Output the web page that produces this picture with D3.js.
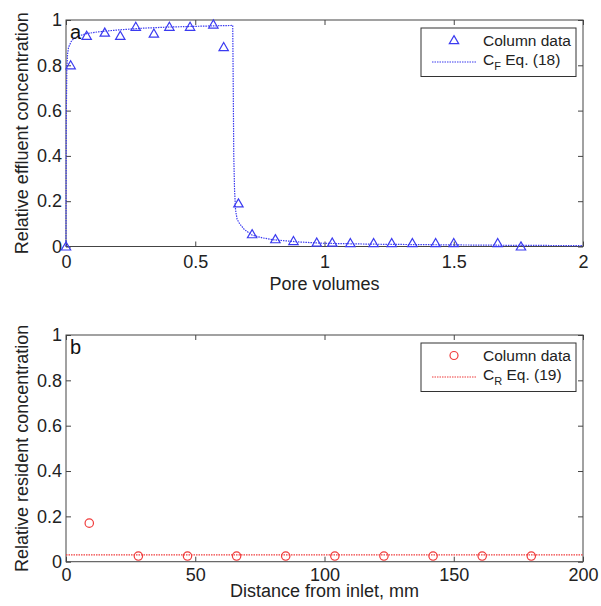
<!DOCTYPE html>
<html>
<head>
<meta charset="utf-8">
<script src="https://cdn.jsdelivr.net/npm/d3@7"></script>
<style>
  body { margin: 0; background: #fff; }
  svg { font-family: "Liberation Sans", Arial, sans-serif; }
  .tick text { font-size: 18px; fill: #222; }
  .tick line { stroke: #444; }
</style>
</head>
<body>
<div id="chart"></div>
<script>
//////////////////// Data ////////////////////

// panel a: effluent breakthrough
var poreVolumes = [0, 0.018, 0.08, 0.15, 0.21, 0.27, 0.34, 0.40, 0.48, 0.57, 0.61,
                   0.667, 0.72, 0.81, 0.88, 0.97, 1.03, 1.10, 1.19, 1.26, 1.34, 1.43, 1.50, 1.67, 1.76];
var effluentConc = [0, 0.80, 0.93, 0.944, 0.93, 0.97, 0.94, 0.97, 0.97, 0.98, 0.88,
                    0.19, 0.054, 0.032, 0.024, 0.017, 0.017, 0.015, 0.015, 0.015, 0.015, 0.015, 0.015, 0.015, 0.0];

// C_F Eq. (18) curve
var modelPV = [0, 0.001, 0.003, 0.006, 0.01, 0.02, 0.03, 0.05, 0.08, 0.12, 0.2, 0.3, 0.4, 0.5, 0.6, 0.645,
               0.647, 0.649, 0.652, 0.656, 0.662, 0.672, 0.69, 0.72, 0.76, 0.8, 0.9, 1.0, 1.2, 1.5, 1.75, 2.0];
var modelCF = [0, 0.55, 0.78, 0.85, 0.88, 0.905, 0.918, 0.93, 0.94, 0.947, 0.956, 0.964, 0.969, 0.972, 0.975, 0.976,
               0.7, 0.4, 0.25, 0.16, 0.12, 0.1, 0.075, 0.05, 0.038, 0.03, 0.02, 0.014, 0.01, 0.007, 0.005, 0.004];

// panel b: resident concentration profile
var distance = [9, 28, 47, 66, 85, 104, 123, 142, 161, 180];
var residentConc = [0.17, 0.025, 0.025, 0.025, 0.025, 0.025, 0.025, 0.025, 0.025, 0.025];

// C_R Eq. (19) curve
var modelDist = [0, 50, 100, 150, 200];
var modelCR = [0.03, 0.03, 0.03, 0.03, 0.03];

var yTicks = [0, 0.2, 0.4, 0.6, 0.8, 1];
var xTicksA = [0, 0.5, 1, 1.5, 2];
var xTicksB = [0, 50, 100, 150, 200];

//////////////////// Set up svg ////////////////////

var width = 601, height = 606;
var svg = d3.select("#chart").append("svg")
    .attr("width", width)
    .attr("height", height);

var blue = "#3b3bf0", red = "#f03c3c";
var triangle = d3.symbol().type(d3.symbolTriangle).size(38);

function drawPanel(opt) {
    var x = d3.scaleLinear().domain(opt.xDomain).range([opt.left, opt.right]);
    var y = d3.scaleLinear().domain([0, 1]).range([opt.bottom, opt.top]);
    var g = svg.append("g");

    //axes with inward ticks on all four sides
    g.append("g").attr("transform", "translate(0," + opt.bottom + ")")
        .call(d3.axisBottom(x).tickValues(opt.xTicks).tickSize(-5).tickSizeOuter(0).tickPadding(opt.xPad).tickFormat(d3.format("")))
        .select(".domain").remove();
    g.append("g").attr("transform", "translate(0," + opt.top + ")")
        .call(d3.axisTop(x).tickValues(opt.xTicks).tickSize(-5).tickSizeOuter(0).tickFormat(""))
        .select(".domain").remove();
    g.append("g").attr("transform", "translate(" + opt.left + ",0)")
        .call(d3.axisLeft(y).tickValues(yTicks).tickSize(-5).tickSizeOuter(0).tickPadding(4).tickFormat(d3.format("")))
        .select(".domain").remove();
    g.append("g").attr("transform", "translate(" + opt.right + ",0)")
        .call(d3.axisRight(y).tickValues(yTicks).tickSize(-5).tickSizeOuter(0).tickFormat(""))
        .select(".domain").remove();

    g.append("rect")
        .attr("x", opt.left).attr("y", opt.top)
        .attr("width", opt.right - opt.left).attr("height", opt.bottom - opt.top)
        .style("fill", "none").style("stroke", "#444").style("stroke-width", 1);

    //model line
    var line = d3.line().x(function(d) { return x(d[0]); }).y(function(d) { return y(d[1]); });
    g.append("path")
        .datum(d3.zip(opt.lineX, opt.lineY))
        .attr("d", line)
        .style("fill", "none").style("stroke", opt.color)
        .style("stroke-width", 1.2).style("stroke-dasharray", "1.5,1");

    //column data markers
    var pts = d3.zip(opt.ptX, opt.ptY);
    if (opt.marker === "triangle") {
        g.selectAll(".pt").data(pts).enter().append("path")
            .attr("transform", function(d) { return "translate(" + x(d[0]) + "," + (y(d[1]) + 0.8) + ")"; })
            .attr("d", triangle)
            .style("fill", "none").style("stroke", opt.color).style("stroke-width", 1.2);
    } else {
        g.selectAll(".pt").data(pts).enter().append("circle")
            .attr("cx", function(d) { return x(d[0]); })
            .attr("cy", function(d) { return y(d[1]); })
            .attr("r", 4.2)
            .style("fill", "none").style("stroke", opt.color).style("stroke-width", 1.2);
    }

    //panel letter
    g.append("text").attr("x", opt.left + 4).attr("y", opt.top + 19)
        .style("font-size", "20px").style("fill", "#111").text(opt.letter);

    //axis titles
    g.append("text")
        .attr("x", (opt.left + opt.right) / 2).attr("y", opt.bottom + opt.xLabelGap)
        .attr("text-anchor", "middle").style("font-size", "18px").style("fill", "#222")
        .text(opt.xLabel);
    g.append("text")
        .attr("transform", "translate(28," + ((opt.top + opt.bottom) / 2) + ") rotate(-90)")
        .attr("text-anchor", "middle").style("font-size", "18px").style("fill", "#222")
        .text(opt.yLabel);

    //legend
    var lx = opt.right - 162, ly = opt.top + 8;
    var leg = g.append("g").attr("transform", "translate(" + lx + "," + ly + ")");
    leg.append("rect").attr("width", 155).attr("height", 48.5)
        .style("fill", "#fff").style("stroke", "#333").style("stroke-width", 1);
    if (opt.marker === "triangle") {
        leg.append("path").attr("transform", "translate(33,13)").attr("d", triangle)
            .style("fill", "none").style("stroke", opt.color).style("stroke-width", 1.2);
    } else {
        leg.append("circle").attr("cx", 33).attr("cy", 12.5).attr("r", 4)
            .style("fill", "none").style("stroke", opt.color).style("stroke-width", 1.2);
    }
    leg.append("line").attr("x1", 11).attr("x2", 56).attr("y1", 34).attr("y2", 34)
        .style("stroke", opt.color).style("stroke-width", 1.2).style("stroke-dasharray", "1.5,1");
    leg.append("text").attr("x", 62).attr("y", 18).style("font-size", "15.5px").style("fill", "#222")
        .text("Column data");
    var t = leg.append("text").attr("x", 62).attr("y", 36.5).style("font-size", "15.5px").style("fill", "#222");
    t.append("tspan").text("C");
    t.append("tspan").attr("dy", 5).style("font-size", "11px").text(opt.sub);
    t.append("tspan").attr("dy", -5).text(" Eq. (" + opt.eq + ")");
}

drawPanel({
    left: 66, right: 583, top: 20, bottom: 246.5, xPad: 8.5, xLabelGap: 43,
    xDomain: [0, 2], xTicks: xTicksA,
    lineX: modelPV, lineY: modelCF, ptX: poreVolumes, ptY: effluentConc,
    color: blue, marker: "triangle", letter: "a", sub: "F", eq: "18",
    xLabel: "Pore volumes", yLabel: "Relative effluent concentration"
});

drawPanel({
    left: 66, right: 583, top: 335, bottom: 561.7, xPad: 7, xLabelGap: 35,
    xDomain: [0, 200], xTicks: xTicksB,
    lineX: modelDist, lineY: modelCR, ptX: distance, ptY: residentConc,
    color: red, marker: "circle", letter: "b", sub: "R", eq: "19",
    xLabel: "Distance from inlet, mm", yLabel: "Relative resident concentration"
});
</script>
</body>
</html>
